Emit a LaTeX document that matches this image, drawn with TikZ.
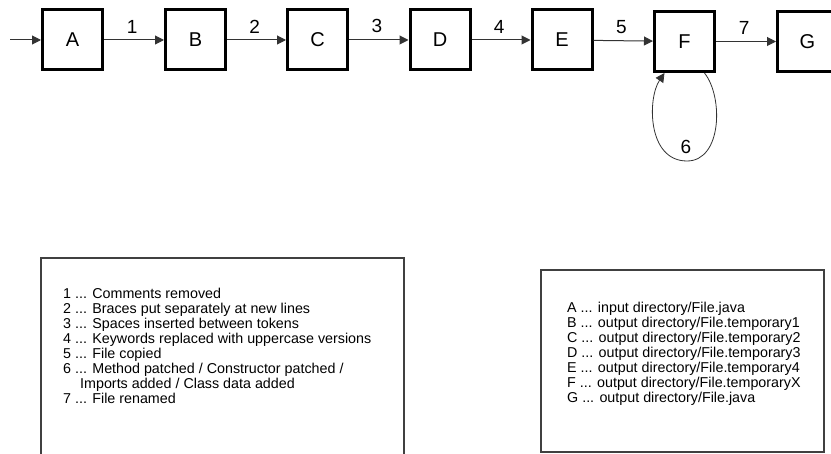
\documentclass[tikz,border=0pt]{standalone}
\usepackage{fontspec}
\setmainfont{Liberation Sans}
\usetikzlibrary{arrows.meta}

\begin{document}
\begin{tikzpicture}[x=1pt,y=-1pt,
	filebox/.style={draw,line width=3pt,minimum size=60pt,inner sep=0pt,font=\fontsize{20}{20}\selectfont},
	flow/.style={draw=black!80,line width=1pt,-{Triangle[length=9pt,width=9pt]}},
	steplabel/.style={font=\fontsize{19}{19}\selectfont,above=3pt,pos=0.47},
	legendbox/.style={draw=black!75,line width=1.2pt},
	legendtext/.style={anchor=north west,inner sep=0pt,align=left,font=\fontsize{14.3}{15}\selectfont}]
	
	\useasboundingbox (0,0) rectangle (831,454);
	
	% the files
	\node[filebox] (A) at (72.5,40) {A};
	\node[filebox] (B) at (195.5,40) {B};
	\node[filebox] (C) at (317.5,40) {C};
	\node[filebox] (D) at (440,40) {D};
	\node[filebox] (E) at (562,40) {E};
	\node[filebox] (F) at (684.5,41.5) {F};
	\node[filebox] (G) at (807.5,41.5) {G};
	\coordinate (in) at (10,40);
	
	% the steps
	\draw[flow] (in) -- (A);
	\draw[flow] (A) -- node[steplabel] {1} (B);
	\draw[flow] (B) -- node[steplabel] {2} (C);
	\draw[flow] (C) -- node[steplabel] {3} (D);
	\draw[flow] (D) -- node[steplabel] {4} (E);
	\draw[flow] (E) -- node[steplabel] {5} (F);
	\draw[flow] (F) -- node[steplabel] {7} (G);
	
	% step 6 loops on F
	\draw[flow,line width=0.8pt] ([xshift=20pt]F.south) .. controls +(19,24) and +(35,0) .. (687,161)
		.. controls +(-40,0) and +(-17,25) .. ([xshift=-20pt]F.south);
	\node[font=\fontsize{19}{19}\selectfont] (six) at (686,147) {6};
	
	% legends
	\draw[legendbox] (41,258) rectangle (404,458);
	\node[legendtext] (steps) at (63,287.5) {%
		1 ... Comments removed\\
		2 ... Braces put separately at new lines\\
		3 ... Spaces inserted between tokens\\
		4 ... Keywords replaced with uppercase versions\\
		5 ... File copied\\
		6 ... Method patched / Constructor patched /\\
		\hspace*{17pt}Imports added / Class data added\\
		7 ... File renamed};
	
	\draw[legendbox] (541,270) rectangle (824,452);
	\node[legendtext] (files) at (567,301.5) {%
		A ... input directory/File.java\\
		B ... output directory/File.temporary1\\
		C ... output directory/File.temporary2\\
		D ... output directory/File.temporary3\\
		E ... output directory/File.temporary4\\
		F ... output directory/File.temporaryX\\
		G ... output directory/File.java};
	
\end{tikzpicture}
\end{document}
